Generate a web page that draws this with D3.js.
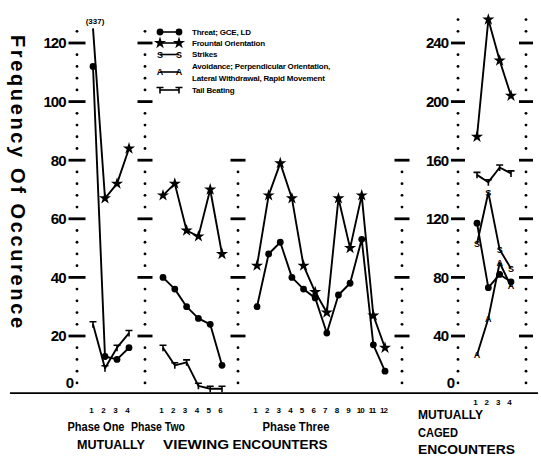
<!DOCTYPE html>
<html>
<head>
<meta charset="utf-8">
<script src="https://cdn.jsdelivr.net/npm/d3@7"></script>
<style>
  body { margin: 0; background: #fff; }
  text { font-family: "Liberation Sans", Arial, sans-serif; font-weight: bold; fill: #000; }
</style>
</head>
<body>
<svg id="chart" width="541" height="458"></svg>
<script>
// ---- data ----
const phaseOneTrials   = [1, 2, 3, 4];
const phaseOneThreat   = [112, 13, 12, 16];
const phaseOneFrontal  = [337, 67, 72, 84];
const phaseOneTail     = [24, 9, 16, 21];

const phaseTwoTrials   = [1, 2, 3, 4, 5, 6];
const phaseTwoThreat   = [40, 36, 30, 26, 24, 10];
const phaseTwoFrontal  = [68, 72, 56, 54, 70, 48];
const phaseTwoTail     = [16, 10, 11, 3, 2, 2];

const phaseThreeTrials  = [1, 2, 3, 4, 5, 6, 7, 8, 9, 10, 11, 12];
const phaseThreeThreat  = [30, 48, 52, 40, 36, 33, 21, 34, 38, 53, 17, 8];
const phaseThreeFrontal = [44, 68, 79, 67, 44, 35, 28, 67, 50, 68, 27, 16];

const cagedTrials   = [1, 2, 3, 4];
const cagedThreat   = [117, 73, 82, 77];
const cagedFrontal  = [176, 256, 228, 204];
const cagedStrikes  = [103, 138, 99, 86];
const cagedAvoid    = [27, 52, 90, 74];
const cagedTail     = [150, 145, 155, 151];

const viewTicks  = [0, 20, 40, 60, 80, 100, 120];
const cagedTicks = [0, 40, 80, 120, 160, 200, 240];

const legendLabels = [
  ["Threat; GCE, LD"],
  ["Frountal Orientation"],
  ["Strikes"],
  ["Avoidance; Perpendicular Orientation,", "Lateral Withdrawal, Rapid Movement"],
  ["Tail Beating"]
];
const legendMarkers = ["circle", "star", "S", "A", "T"];

// ---- scales ----
const svg = d3.select("#chart");
const yView  = d3.scaleLinear().domain([0, 120]).range([394.6, 43]);
const yCaged = d3.scaleLinear().domain([0, 240]).range([394.6, 43]);
const xOne   = d3.scaleLinear().domain([1, 4]).range([93, 129]);
const xTwo   = d3.scaleLinear().domain([1, 6]).range([163, 222]);
const xThree = d3.scaleLinear().domain([1, 12]).range([257, 385]);
const xCaged = d3.scaleLinear().domain([1, 4]).range([477, 511]);
// values above the cap are pinned to the top of the panel with a label
const capOf = y => (y === yCaged ? 270 : 125);

// ---- dotted axes ----
function dottedAxis(x, y, step, major, from, to, half, labels) {
  const g = svg.append("g");
  for (let v = from; v <= to + 0.001; v += step) {
    if (v % major === 0) {
      g.append("line").attr("x1", x - half).attr("x2", x + half)
        .attr("y1", y(v)).attr("y2", y(v))
        .attr("stroke", "#000").attr("stroke-width", 2.8);
    } else {
      g.append("circle").attr("cx", x).attr("cy", y(v)).attr("r", 1.4).attr("fill", "#000");
    }
  }
  if (labels) {
    labels.ticks.forEach(t => {
      const isZero = t === 0;
      g.append("text")
        .attr("x", isZero ? x - 4 : x - half - 3)
        .attr("y", isZero ? y(step) : y(t))
        .attr("dy", "0.36em")
        .attr("text-anchor", "end")
        .style("font-size", "15px")
        .style("letter-spacing", "-1px")
        .text(t);
    });
  }
}

dottedAxis(77, yView, 4, 20, 4, 124, 8.5, {ticks: viewTicks});
dottedAxis(145, yView, 4, 20, 4, 124, 7.5);
dottedAxis(238, yView, 4, 20, 4, 80, 7.5);
dottedAxis(402, yView, 4, 20, 4, 80, 7.5);
dottedAxis(458, yCaged, 8, 40, 8, 256, 7, {ticks: cagedTicks});
dottedAxis(526, yCaged, 8, 40, 8, 256, 7);

// baseline
svg.append("line").attr("x1", 10).attr("x2", 538)
  .attr("y1", yView(0) - 1.5).attr("y2", yView(0) - 1.5)
  .attr("stroke", "#000").attr("stroke-width", 1.6);

// ---- markers ----
const starPath = d3.symbol().type(d3.symbolStar).size(46)();
function marker(g, kind, x, y) {
  if (kind === "circle") {
    g.append("circle").attr("cx", x).attr("cy", y).attr("r", 3.4).attr("fill", "#000");
  } else if (kind === "star") {
    g.append("path").attr("d", starPath).attr("transform", `translate(${x},${y})`).attr("fill", "#000");
  } else if (kind === "T") {
    g.append("path").attr("d", `M${x - 3.5},${y - 2.5}H${x + 3.5}M${x},${y - 2.5}V${y + 3.5}`)
      .attr("stroke", "#000").attr("stroke-width", 1.6).attr("fill", "none");
  } else {
    g.append("text").attr("x", x).attr("y", y).attr("dy", "0.36em")
      .attr("text-anchor", "middle").style("font-size", "9px").text(kind);
  }
}

function series(trials, values, x, y, kind) {
  const g = svg.append("g");
  const cap = capOf(y);
  const pts = trials.map((t, i) => ({t, v: values[i]}));
  g.append("path").datum(pts)
    .attr("d", d3.line().x(d => x(d.t)).y(d => y(Math.min(d.v, cap))))
    .attr("fill", "none").attr("stroke", "#000").attr("stroke-width", 1.9)
    .attr("stroke-linejoin", "round");
  pts.forEach(d => {
    if (d.v > cap) {
      g.append("text").attr("x", x(d.t) + 2).attr("y", y(cap) - 4)
        .attr("text-anchor", "middle").style("font-size", "8px").text(`(${d.v})`);
    } else {
      marker(g, kind, x(d.t), y(d.v));
    }
  });
}

series(phaseOneTrials, phaseOneTail, xOne, yView, "T");
series(phaseOneTrials, phaseOneThreat, xOne, yView, "circle");
series(phaseOneTrials, phaseOneFrontal, xOne, yView, "star");

series(phaseTwoTrials, phaseTwoTail, xTwo, yView, "T");
series(phaseTwoTrials, phaseTwoThreat, xTwo, yView, "circle");
series(phaseTwoTrials, phaseTwoFrontal, xTwo, yView, "star");

series(phaseThreeTrials, phaseThreeThreat, xThree, yView, "circle");
series(phaseThreeTrials, phaseThreeFrontal, xThree, yView, "star");

series(cagedTrials, cagedAvoid, xCaged, yCaged, "A");
series(cagedTrials, cagedThreat, xCaged, yCaged, "circle");
series(cagedTrials, cagedStrikes, xCaged, yCaged, "S");
series(cagedTrials, cagedTail, xCaged, yCaged, "T");
series(cagedTrials, cagedFrontal, xCaged, yCaged, "star");

// ---- legend ----
const legendRows = [32, 43, 54.5, 72, 90];
const legend = svg.append("g");
legendLabels.forEach((lines, i) => {
  const ly = legendRows[i];
  legend.append("line").attr("x1", 160).attr("x2", 179).attr("y1", ly).attr("y2", ly)
    .attr("stroke", "#000").attr("stroke-width", 1.6);
  marker(legend, legendMarkers[i], 160, ly);
  marker(legend, legendMarkers[i], 179, ly);
  lines.forEach((s, j) => {
    const ty = lines.length > 1 ? ly + (j - 0.5) * 12 : ly;
    legend.append("text").attr("x", 192).attr("y", ty).attr("dy", "0.36em")
      .style("font-size", "8px").style("letter-spacing", "-0.2px").text(s);
  });
});

// ---- y title ----
svg.append("text")
  .attr("transform", "translate(18,35) rotate(90)")
  .attr("dominant-baseline", "central")
  .attr("textLength", 293).attr("lengthAdjust", "spacing")
  .style("font-size", "20px")
  .text("Frequency Of Occurence");

// ---- x tick labels ----
function tickLabels(trials, x, ty) {
  svg.append("g").selectAll("text").data(trials).join("text")
    .attr("x", d => x(d) - 1.5).attr("y", ty).attr("dy", "0.36em")
    .attr("text-anchor", "middle")
    .style("font-size", "8px").style("letter-spacing", d => d > 9 ? "-1px" : "0px")
    .text(d => d);
}
tickLabels(phaseOneTrials, xOne, 410);
tickLabels(phaseTwoTrials, xTwo, 410);
tickLabels(phaseThreeTrials, xThree, 410);
tickLabels(cagedTrials, xCaged, 402);

// ---- group labels ----
const groupText = [
  {t: "Phase One", x: 96, y: 427, w: 57},
  {t: "Phase Two", x: 158, y: 427, w: 54},
  {t: "Phase Three", x: 296, y: 427, w: 67},
  {t: "MUTUALLY", x: 111, y: 445, w: 68},
  {t: "VIEWING", x: 196, y: 445, w: 66},
  {t: "ENCOUNTERS", x: 280, y: 445, w: 95}
];
svg.append("g").selectAll("text").data(groupText).join("text")
  .attr("x", d => d.x).attr("y", d => d.y).attr("dy", "0.36em")
  .attr("text-anchor", "middle")
  .attr("textLength", d => d.w).attr("lengthAdjust", "spacingAndGlyphs")
  .style("font-size", "12px").text(d => d.t);

const cagedText = [
  {t: "MUTUALLY", y: 415, w: 65},
  {t: "CAGED", y: 433, w: 40},
  {t: "ENCOUNTERS", y: 450, w: 97}
];
svg.append("g").selectAll("text").data(cagedText).join("text")
  .attr("x", 418).attr("y", d => d.y).attr("dy", "0.36em")
  .attr("textLength", d => d.w).attr("lengthAdjust", "spacingAndGlyphs")
  .style("font-size", "12px").text(d => d.t);
</script>
</body>
</html>
